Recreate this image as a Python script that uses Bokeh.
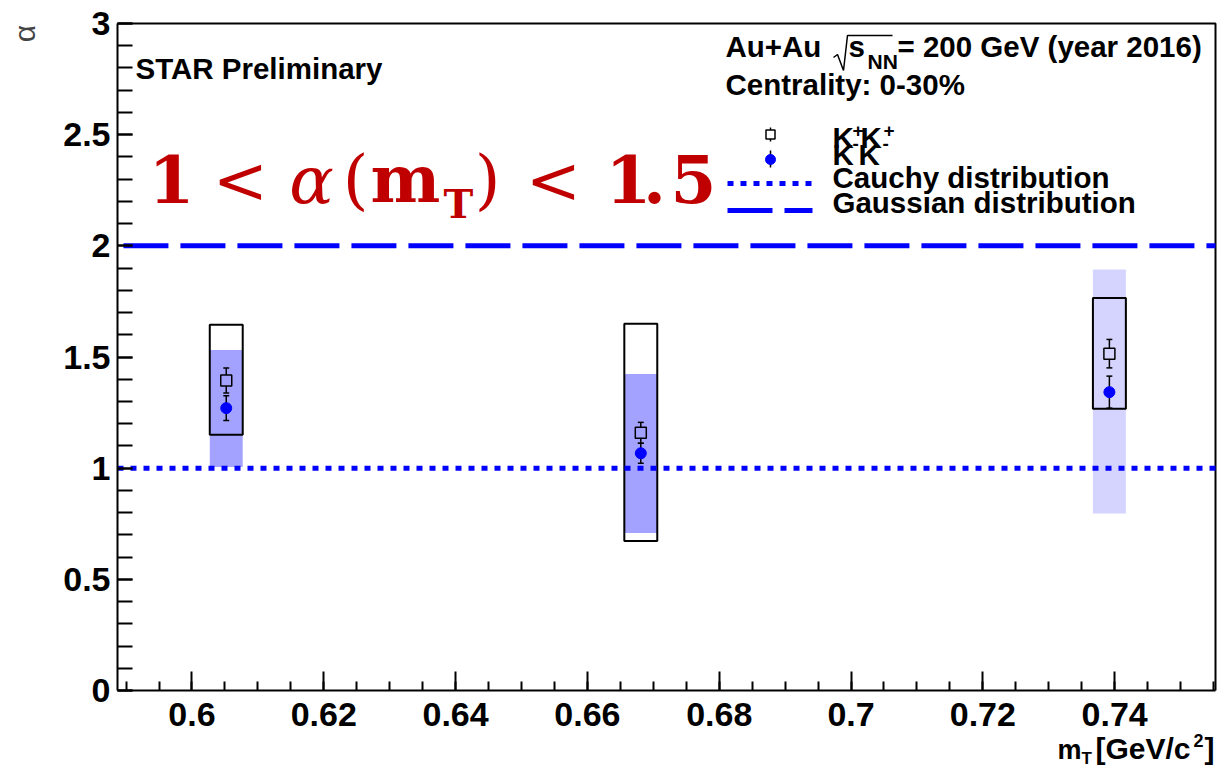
import numpy as np
from bokeh.plotting import figure
from bokeh.models import Range1d, Label, ColumnDataSource, FixedTicker
from bokeh.embed import file_html
from bokeh.resources import INLINE

# ---------------- data ----------------
mt = [0.6052, 0.6681, 0.7392]
kp_alpha = [1.394, 1.159, 1.515]
kp_stat = [0.056, 0.047, 0.064]
kp_sys_lo = [1.150, 0.672, 1.267]
kp_sys_hi = [1.645, 1.649, 1.765]
km_alpha = [1.270, 1.067, 1.342]
km_stat = [0.056, 0.045, 0.072]
km_sys_lo = [1.005, 0.708, 0.796]
km_sys_hi = [1.532, 1.424, 1.893]
km_sys_shade = [0.36, 0.36, 0.17]
sys_halfwidth = 0.0025

cauchy_alpha = 1.0
gauss_alpha = 2.0
cauchy_x = [0.5887, 0.7553]
gauss_x = [0.5896, 0.7553]

x_ticks = [0.6, 0.62, 0.64, 0.66, 0.68, 0.7, 0.72, 0.74]
x_tick_labels = ["0.6", "0.62", "0.64", "0.66", "0.68", "0.7", "0.72", "0.74"]
y_ticks = [0, 0.5, 1, 1.5, 2, 2.5, 3]
y_tick_labels = ["0", "0.5", "1", "1.5", "2", "2.5", "3"]

# ---------------- geometry (axes frame inside the canvas) ----------------
X0, X1 = 0.5887, 0.7553      # x extent of the axes box
Y0, Y1 = 0.0, 3.0            # y extent of the axes box
FL, FR, FT, FB = 117, 1215, 23, 690   # pixel position of the axes box
W, H = 1225, 768
BASE = 0.37  # baseline correction for labels (fraction of font size)


def X(px):
    return X0 + (px - FL) * (X1 - X0) / (FR - FL)


def Y(py):
    return Y0 + (FB - py) * (Y1 - Y0) / (FB - FT)


p = figure(width=W, height=H, x_range=Range1d(X(0), X(W)), y_range=Range1d(Y(H), Y(0)),
           output_backend="svg", toolbar_location=None, title=None,
           min_border=0, min_border_left=0, min_border_right=0,
           min_border_top=0, min_border_bottom=0)
p.grid.visible = False
p.outline_line_color = None
p.background_fill_color = "white"
p.border_fill_color = "white"

x_minor = list(np.round(np.arange(0.59, 0.7555, 0.005), 4))
y_minor = list(np.round(np.arange(0, 3.001, 0.1), 2))
p.xaxis.ticker = FixedTicker(ticks=x_ticks, minor_ticks=x_minor)
p.yaxis.ticker = FixedTicker(ticks=y_ticks, minor_ticks=y_minor)
p.xaxis.major_label_overrides = {t: l for t, l in zip(x_ticks, x_tick_labels)}
p.yaxis.major_label_overrides = {t: l for t, l in zip(y_ticks, y_tick_labels)}
p.xaxis.fixed_location = Y0
p.yaxis.fixed_location = X0
p.xaxis.bounds = (X0, X1)
p.yaxis.bounds = (Y0, Y1)

for ax, tin, min_in, standoff in ((p.xaxis[0], 19, 9, 12), (p.yaxis[0], 15, 15, 7)):
    ax.major_tick_in = tin
    ax.major_tick_out = 0
    ax.minor_tick_in = min_in
    ax.minor_tick_out = 0
    ax.axis_line_width = 2
    ax.major_tick_line_width = 2
    ax.minor_tick_line_width = 2
    ax.axis_line_color = "black"
    ax.major_tick_line_color = "black"
    ax.minor_tick_line_color = "black"
    ax.major_label_text_font = "Liberation Sans"
    ax.major_label_text_font_style = "bold"
    ax.major_label_text_font_size = "34px"
    ax.major_label_text_color = "black"
    ax.major_label_standoff = standoff

# top and right edges of the axes box
p.line(x=[X0, X1, X1], y=[Y1, Y1, Y0], line_color="black", line_width=2)

# ---------------- marks ----------------
mt_a = np.array(mt)
src = ColumnDataSource(dict(
    x=mt, left=list(mt_a - sys_halfwidth), right=list(mt_a + sys_halfwidth),
    kp=kp_alpha, kp_lo=list(np.array(kp_alpha) - np.array(kp_stat)),
    kp_hi=list(np.array(kp_alpha) + np.array(kp_stat)),
    kp_sys_lo=kp_sys_lo, kp_sys_hi=kp_sys_hi,
    km=km_alpha, km_lo=list(np.array(km_alpha) - np.array(km_stat)),
    km_hi=list(np.array(km_alpha) + np.array(km_stat)),
    km_sys_lo=km_sys_lo, km_sys_hi=km_sys_hi, shade=km_sys_shade,
    capl=list(mt_a - 0.00045), capr=list(mt_a + 0.00045),
))

# systematic boxes
p.quad(left="left", right="right", bottom="km_sys_lo", top="km_sys_hi", source=src,
       fill_color="blue", fill_alpha="shade", line_color=None)
p.quad(left="left", right="right", bottom="kp_sys_lo", top="kp_sys_hi", source=src,
       fill_color=None, line_color="black", line_width=2)

# horizontal reference lines
p.line(x=cauchy_x, y=[cauchy_alpha] * 2, line_color="blue", line_width=5, line_dash="6 7")
p.line(x=gauss_x, y=[gauss_alpha] * 2, line_color="blue", line_width=5, line_dash="45 12")

# stat error bars
sq_half = 5.5 * (Y1 - Y0) / (FB - FT)
src.data["kp_top0"] = list(np.array(kp_alpha) + sq_half)
src.data["kp_bot0"] = list(np.array(kp_alpha) - sq_half)
p.segment(x0="x", y0="kp_top0", x1="x", y1="kp_hi", source=src, line_color="black", line_width=1.5)
p.segment(x0="x", y0="kp_lo", x1="x", y1="kp_bot0", source=src, line_color="black", line_width=1.5)
p.segment(x0="capl", y0="kp_hi", x1="capr", y1="kp_hi", source=src, line_color="black", line_width=1.5)
p.segment(x0="capl", y0="kp_lo", x1="capr", y1="kp_lo", source=src, line_color="black", line_width=1.5)
p.segment(x0="x", y0="km_lo", x1="x", y1="km_hi", source=src, line_color="black", line_width=1.5)
p.segment(x0="capl", y0="km_hi", x1="capr", y1="km_hi", source=src, line_color="black", line_width=1.5)
p.segment(x0="capl", y0="km_lo", x1="capr", y1="km_lo", source=src, line_color="black", line_width=1.5)

p.scatter(x="x", y="km", source=src, marker="circle", size=11, fill_color="blue", line_color="blue")
p.scatter(x="x", y="kp", source=src, marker="square", size=11, fill_color=None,
          line_color="black", line_width=1.5)

# ---------------- legend (drawn manually, ROOT style) ----------------
p.segment(x0=[X(770)], y0=[Y(127)], x1=[X(770)], y1=[Y(141)], line_color="black", line_width=1.5)
p.scatter(x=[X(770)], y=[Y(134)], marker="square", size=9, fill_color="white",
          line_color="black", line_width=1.5)
p.segment(x0=[X(770)], y0=[Y(150)], x1=[X(770)], y1=[Y(167)], line_color="black", line_width=1.5)
p.scatter(x=[X(770)], y=[Y(159)], marker="circle", size=10, fill_color="blue", line_color="blue")
p.line(x=[X(727), X(812)], y=[Y(183)] * 2, line_color="blue", line_width=5, line_dash="6 7")
p.line(x=[X(727), X(812)], y=[Y(210)] * 2, line_color="blue", line_width=5, line_dash="45 12")


def lab(text, px, py, size, font="Liberation Sans", style="bold", color="black",
        align="left"):
    p.add_layout(Label(x=X(px), y=Y(py - BASE * size), text=text, text_font=font,
                       text_font_size=f"{size}px", text_font_style=style,
                       text_color=color, text_align=align, text_baseline="alphabetic"))


F = 29.5
lab("STAR Preliminary", 135, 79, F)
lab("Au+Au", 725, 57, F)
# radical sign of sqrt(s_NN)
p.line(x=[X(833), X(837), X(843), X(847), X(892)], y=[Y(57), Y(54), Y(70), Y(35), Y(35)],
       line_color="black", line_width=1.5)
lab("s", 848, 57, F)
lab("NN", 867, 69, 21)
lab("= 200 GeV (year 2016)", 897, 57, F)
lab("Centrality: 0-30%", 725, 95, F)

lab("K", 832, 148, F)
lab("+", 852, 137, 19)
lab("K", 860, 148, F)
lab("+", 883, 137, 19)
lab("K", 832, 165, F)
lab("-", 852, 150, 19)
lab("K", 858, 165, F)
lab("-", 882, 150, 19)
lab("Cauchy distribution", 832, 188, F)
lab("Gaussian distribution", 832, 213, F)

# red annotation 1 < alpha(m_T) < 1.5
RED = "#c00000"
SF = "DejaVu Serif"
lab("1", 171, 203, 66, font=SF, color=RED, align="center")
lab("<", 240, 204, 66, font=SF, style="normal", color=RED, align="center")
lab("\u03b1", 311, 204, 66, font=SF, style="italic", color=RED, align="center")
lab("(", 355, 203, 66, font=SF, style="normal", color=RED, align="center")
lab("m", 370, 203, 66, font=SF, color=RED, align="left")
lab("T", 458, 218, 40, font=SF, color=RED, align="center")
lab(")", 487, 203, 66, font=SF, style="normal", color=RED, align="center")
lab("<", 553, 204, 66, font=SF, style="normal", color=RED, align="center")
lab("1", 628, 203, 66, font=SF, color=RED, align="center")
lab(".", 654, 203, 66, font=SF, color=RED, align="center")
lab("5", 693, 203, 66, font=SF, color=RED, align="center")

# axis titles
p.add_layout(Label(x=X(35 - BASE * 30), y=Y(33), text="\u03b1",
                   text_font="Liberation Sans", text_font_size="30px",
                   text_font_style="normal", text_align="center",
                   text_baseline="alphabetic", angle=np.pi / 2))
lab("m", 1057, 759, 27)
lab("T", 1081, 764, 17)
lab("[GeV/c", 1095, 759, 30)
lab("2", 1193, 747, 18)
lab("]", 1204, 759, 30)

open("out.html", "w").write(file_html(p, INLINE))
